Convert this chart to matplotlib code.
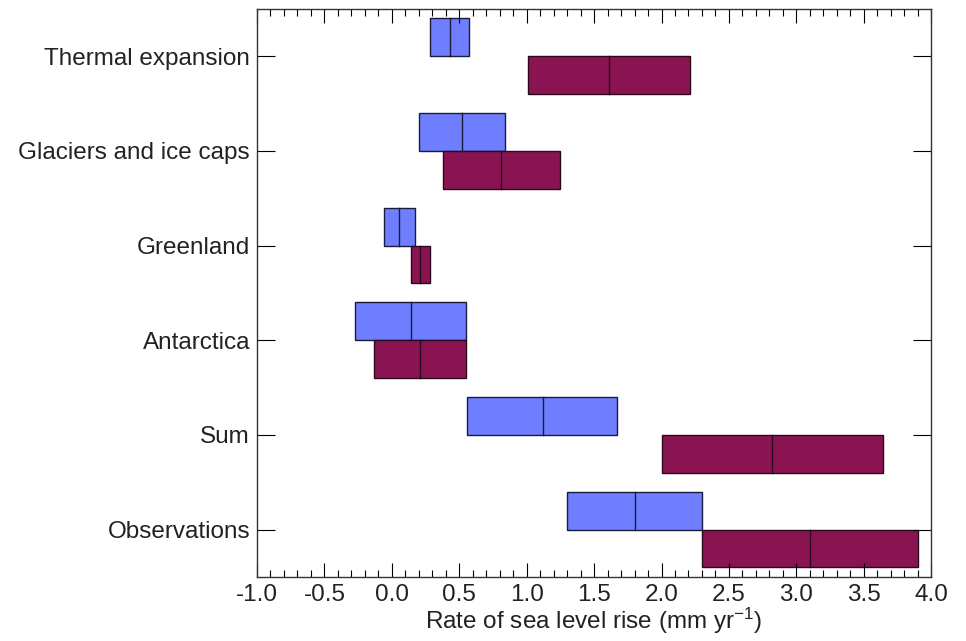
import matplotlib
matplotlib.use('Agg')
import matplotlib.pyplot as plt
from matplotlib.ticker import MultipleLocator

plt.rcParams['font.family'] = ['Liberation Sans', 'DejaVu Sans']
plt.rcParams['mathtext.fontset'] = 'custom'
plt.rcParams['mathtext.rm'] = 'Liberation Sans'
plt.rcParams['mathtext.it'] = 'Liberation Sans'

# contributions to sea level rise, top to bottom
terms = ['Thermal expansion', 'Glaciers and ice caps', 'Greenland',
         'Antarctica', 'Sum', 'Observations']

# 1961-2003 (blue): low, central, high
early_low = [0.28, 0.20, -0.06, -0.27, 0.56, 1.30]
early_mid = [0.43, 0.52, 0.05, 0.14, 1.12, 1.80]
early_high = [0.57, 0.84, 0.17, 0.55, 1.67, 2.30]

# 1993-2003 (purple): low, central, high
late_low = [1.01, 0.38, 0.14, -0.13, 2.00, 2.30]
late_mid = [1.61, 0.81, 0.21, 0.21, 2.82, 3.10]
late_high = [2.21, 1.25, 0.28, 0.55, 3.64, 3.90]

blue = '#6f7eff'
purple = '#8a1352'
txt = '#222222'
h = 0.4
fs = 17.5

fig = plt.figure(figsize=(9.66, 6.41), dpi=100)
ax = fig.add_axes([0.266, 0.100, 0.698, 0.886])

ypos = list(range(len(terms) - 1, -1, -1))
for y, lo, mid, hi in zip(ypos, early_low, early_mid, early_high):
    ax.barh(y, hi - lo, left=lo, height=h, align='edge',
            color=blue, edgecolor='#1a1a3a', linewidth=1.0)
    ax.plot([mid, mid], [y, y + h], color='#1a1a3a', lw=1.0)
for y, lo, mid, hi in zip(ypos, late_low, late_mid, late_high):
    ax.barh(y - h, hi - lo, left=lo, height=h, align='edge',
            color=purple, edgecolor='#2a0a1a', linewidth=1.0)
    ax.plot([mid, mid], [y - h, y], color='#2a0a1a', lw=1.0)

ax.set_xlim(-1.0, 4.0)
ax.set_ylim(-0.5, 5.5)
ax.set_yticks(ypos)
ax.set_yticklabels(terms, fontsize=fs, color=txt)
ax.xaxis.set_major_locator(MultipleLocator(0.5))
ax.xaxis.set_minor_locator(MultipleLocator(0.1))
ax.set_xticklabels([f'{v:.1f}' for v in ax.get_xticks()], color=txt)
ax.tick_params(axis='x', which='major', direction='in', length=10,
               top=True, labelsize=fs, width=0.8, pad=5)
ax.tick_params(axis='x', which='minor', direction='in', length=5,
               top=True, width=0.8)
ax.tick_params(axis='y', which='major', direction='in', length=13,
               right=True, width=0.8, pad=5)
for s in ax.spines.values():
    s.set_linewidth(1.0)
    s.set_color('#333333')
ax.set_xlabel(r'Rate of sea level rise (mm yr$^{\mathregular{-1}}$)',
              fontsize=fs, labelpad=0, color=txt)

fig.savefig('out.png', dpi=100)
